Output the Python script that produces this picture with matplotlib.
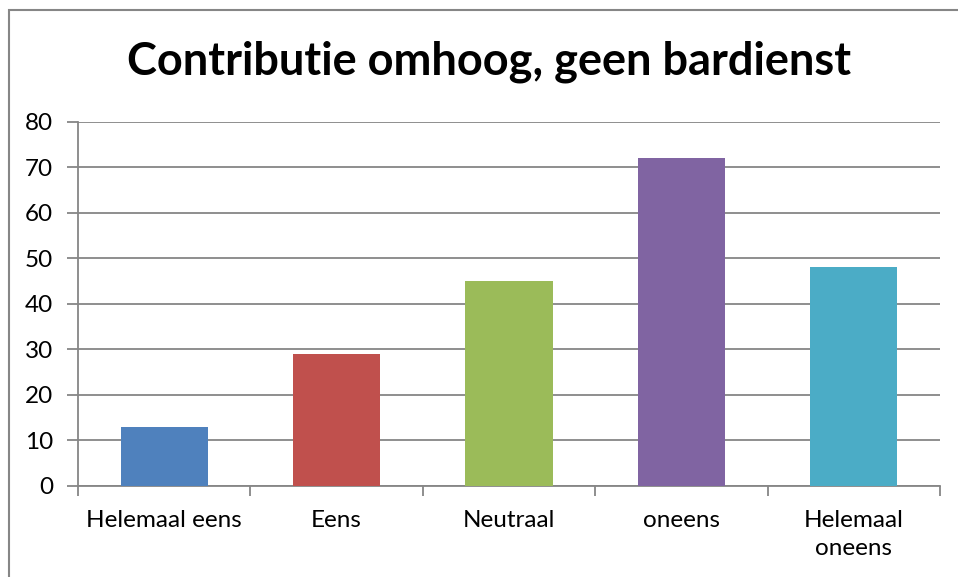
import matplotlib.pyplot as plt
from matplotlib.patches import Rectangle

plt.rcParams['font.family'] = ['Lato', 'DejaVu Sans']

# Data
categories = ["Helemaal eens", "Eens", "Neutraal", "oneens", "Helemaal\noneens"]
values = [13, 29, 45, 72, 48]
colors = ["#4F81BD", "#C0504D", "#9BBB59", "#8064A2", "#4BACC6"]
yticks = [0, 10, 20, 30, 40, 50, 60, 70, 80]

fig = plt.figure(figsize=(9.58, 5.77), dpi=100)
ax = fig.add_axes([78 / 958, 1 - 486 / 577, (940 - 78) / 958, (486 - 121.5) / 577])

# Kader rond de grafiek
fig.patches.append(Rectangle((9 / 958, -0.1), 1.2, 1 - 9.5 / 577 + 0.1, transform=fig.transFigure,
                             fill=False, edgecolor="#868686", linewidth=1.5))

x = range(len(categories))
ax.bar(x, values, width=0.505, color=colors, zorder=3)

ax.set_xlim(-0.5, len(categories) - 0.5)
ax.set_ylim(0, 80)
ax.set_yticks(yticks)
ax.set_yticklabels([str(v) for v in yticks], fontsize=17.5)
ax.yaxis.grid(True, color="#868686", linewidth=1.3, zorder=0)

# x-ticks op de grenzen van de categorieën, labels in het midden
ax.set_xticks([i - 0.5 for i in range(len(categories) + 1)])
ax.set_xticklabels([])
ax.set_xticks(list(x), minor=True)
ax.set_xticklabels(categories, minor=True, fontsize=17.5, linespacing=1.45)
ax.tick_params(axis="x", which="minor", length=0, pad=17)
ax.tick_params(axis="x", which="major", length=7, width=1.3, color="#868686")
ax.tick_params(axis="y", length=8, width=1.3, color="#868686", pad=10)

for s in ["top", "right"]:
    ax.spines[s].set_visible(False)
for s in ["left", "bottom"]:
    ax.spines[s].set_color("#868686")
    ax.spines[s].set_linewidth(1.3)

fig.text(489 / 958, 1 - 62 / 577, "Contributie omhoog, geen bardienst",
         ha="center", va="center", fontsize=32.5, fontweight="bold")

fig.savefig("out.png", dpi=100)
